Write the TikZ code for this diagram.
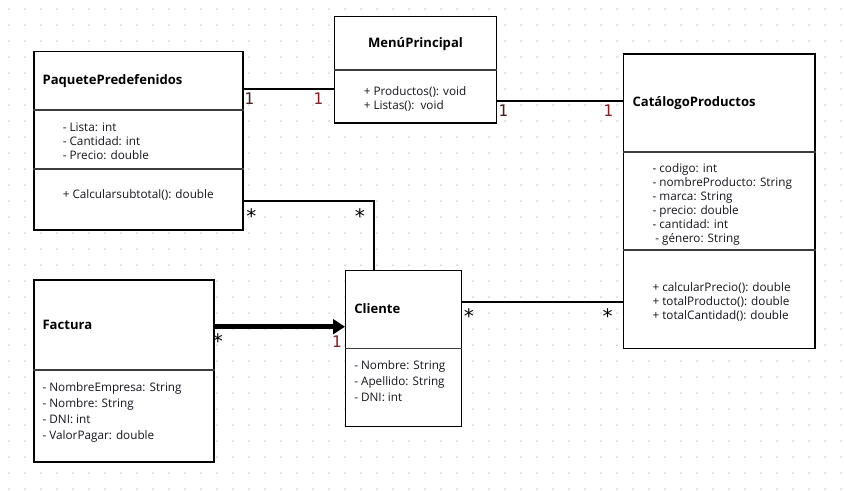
\documentclass[tikz,border=0pt]{standalone}
\usepackage{fontspec}
\setmainfont{Open Sans}
\newfontfamily\lblfont{DejaVu Sans Mono}
\usetikzlibrary{arrows.meta}
\definecolor{dotc}{HTML}{D0D3DB}
\definecolor{divc}{HTML}{3C3C3C}
\definecolor{txtc}{HTML}{15151C}
\definecolor{oneA}{HTML}{4A1E1E}
\definecolor{oneB}{HTML}{8A1F1F}
\begin{document}
\begin{tikzpicture}[x=0.75pt,y=-0.75pt,
  cls/.style={draw=black, line width=1pt, fill=white, rectangle, inner sep=0, anchor=north west},
  divl/.style={draw=divc, line width=1.2pt},
  conn/.style={draw=black, line width=1.7pt},
  heavy/.style={draw=black, line width=3.4pt, -{Triangle[length=9pt,width=11pt]}},
  tx/.style={font=\fontsize{8.8}{10}\selectfont, text=txtc, anchor=west, inner sep=0, text height=6.3pt, text depth=1.8pt},
  ttl/.style={font=\fontsize{9.8}{11}\selectfont\bfseries, text=black, anchor=west, inner sep=0, text height=7pt, text depth=2pt},
  mult/.style={font=\lblfont\fontsize{12}{13}\selectfont, inner sep=0, anchor=center},
  star/.style={font=\lblfont\fontsize{15}{15}\selectfont, inner sep=0, anchor=center}
]
\useasboundingbox (0,0) rectangle (846,490);
\fill[white] (0,0) rectangle (846,490);
% dot grid
\foreach \i in {0,...,52}{
  \foreach \j in {0,...,30}{
    \fill[dotc] (9+16*\i, 9+16*\j) circle (0.75pt);
  }
}

% class boxes
\node[cls, minimum width=209*0.75pt, minimum height=178.3*0.75pt] (paq) at (33.3,51) {};
\node[cls, minimum width=161.7*0.75pt, minimum height=106.3*0.75pt] (menu) at (334,16) {};
\node[cls, minimum width=191.6*0.75pt, minimum height=294.4*0.75pt] (cat) at (622.7,53.3) {};
\node[cls, minimum width=180*0.75pt, minimum height=182*0.75pt] (fac) at (33.3,279.3) {};
\node[cls, minimum width=116*0.75pt, minimum height=156*0.75pt] (cli) at (345,270) {};

% compartment dividers
\draw[divl] (paq.west |- 0,110) -- (paq.east |- 0,110);
\draw[divl] (paq.west |- 0,169) -- (paq.east |- 0,169);
\draw[divl] (menu.west |- 0,70) -- (menu.east |- 0,70);
\draw[divl] (cat.west |- 0,151.7) -- (cat.east |- 0,151.7);
\draw[divl] (cat.west |- 0,250) -- (cat.east |- 0,250);
\draw[divl] (fac.west |- 0,370) -- (fac.east |- 0,370);
\draw[divl] (cli.west |- 0,348.3) -- (cli.east |- 0,348.3);

% PaquetePredefenidos
\node[ttl] (paqT) at (42.3,80.8) {PaquetePredefenidos};
\node[tx] (paqA1) at (62.5,128.5) {- Lista: int};
\node[tx] (paqA2) at (62.5,142.5) {- Cantidad: int};
\node[tx] (paqA3) at (62.5,156.5) {- Precio: double};
\node[tx] (paqM1) at (62.5,195) {+ Calcularsubtotal(): double};

% MenuPrincipal
\node[ttl, anchor=center] (menuT) at (415.5,43.8) {MenúPrincipal};
\node[tx] (menuM1) at (363.5,92) {+ Productos(): void};
\node[tx] (menuM2) at (363.5,106.2) {+ Listas():\ \ void};

% CatalogoProductos
\node[ttl] (catT) at (632.3,103) {CatálogoProductos};
\node[tx] (catA1) at (652.3,169) {- codigo: int};
\node[tx] (catA2) at (652.3,183.3) {- nombreProducto: String};
\node[tx] (catA3) at (652.3,197.2) {- marca: String};
\node[tx] (catA4) at (652.3,211.2) {- precio: double};
\node[tx] (catA5) at (652.3,225) {- cantidad: int};
\node[tx] (catA6) at (655,239.3) {- género: String};
\node[tx] (catM1) at (652.3,288.6) {+ calcularPrecio(): double};
\node[tx] (catM2) at (652.3,302.3) {+ totalProducto(): double};
\node[tx] (catM3) at (652.3,316.3) {+ totalCantidad(): double};

% Factura
\node[ttl] (facT) at (42.3,325.8) {Factura};
\node[tx] (facA1) at (42.3,388) {- NombreEmpresa: String};
\node[tx] (facA2) at (42.3,404.2) {- Nombre: String};
\node[tx] (facA3) at (42.3,420.2) {- DNI: int};
\node[tx] (facA4) at (42.3,436) {- ValorPagar: double};

% Cliente
\node[ttl] (cliT) at (354,309.8) {Cliente};
\node[tx] (cliA1) at (354,366) {- Nombre: String};
\node[tx] (cliA2) at (354,382) {- Apellido: String};
\node[tx] (cliA3) at (354,398) {- DNI: int};

% connectors
\draw[conn] (paq.east |- 0,88.7) -- (menu.west |- 0,88.7);
\draw[conn] (menu.east |- 0,100.7) -- (cat.west |- 0,100.7);
\coordinate (bend) at (374.3,201);
\draw[conn] (paq.east |- bend) -- (bend) -- (cli.north -| bend);
\draw[heavy] (fac.east |- 0,326.7) -- (cli.west |- 0,326.7);
\draw[conn] (cli.east |- 0,302) -- (cat.west |- 0,302);

% multiplicities
\node[mult, text=oneA] (m1) at (249.3,98.5) {1};
\node[mult, text=oneB] (m2) at (318.3,98.5) {1};
\node[mult, text=oneA] (m3) at (503.3,110.5) {1};
\node[mult, text=oneB] (m4) at (608.3,110.5) {1};
\node[star] (m5) at (251.5,216) {*};
\node[star] (m6) at (360,216) {*};
\node[star] (m7) at (218,341.5) {*};
\node[mult, text=oneB] (m8) at (336.7,341.5) {1};
\node[star] (m9) at (469,316.5) {*};
\node[star] (m10) at (607.7,316.5) {*};
\end{tikzpicture}
\end{document}
